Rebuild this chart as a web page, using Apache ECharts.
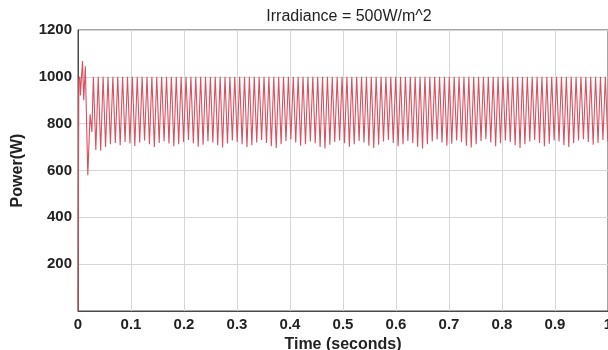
<!DOCTYPE html>
<html>
<head>
<meta charset="utf-8">
<script src="https://cdn.jsdelivr.net/npm/echarts@6/dist/echarts.min.js"></script>
<style>html,body{margin:0;padding:0;background:#fff}#c{width:608px;height:350px}</style>
</head>
<body>
<div id="c"></div>
<script>
// Tick labels
const xTicks = [0, 0.1, 0.2, 0.3, 0.4, 0.5, 0.6, 0.7, 0.8, 0.9, 1];
const yTicks = [0, 200, 400, 600, 800, 1000, 1200];

// Start-up transient (time s, power W)
const transientTime = [0, 0.0015, 0.0035, 0.0045, 0.0085, 0.0108, 0.0138, 0.0185, 0.0228, 0.0262];
const transientPower = [0, 990, 1000, 920, 1068, 900, 1045, 580, 840, 765];

// Steady-state ripple: each cycle peaks at 1000 W, troughs
const rippleStart = 0.029;
const rippleHalfPeriod = 0.0046;
const ripplePeak = 1000;
const rippleTroughs = [688, 684, 700, 712, 718, 708, 722, 715, 705, 720, 728, 712, 700, 718, 725, 715, 704, 712, 722, 730,
  716, 702, 710, 725, 720, 708, 698, 715, 728, 722, 712, 700, 708, 720, 730, 718, 704, 696, 712, 726,
  732, 720, 706, 712, 724, 716, 700, 694, 710, 722, 728, 716, 702, 712, 726, 720, 706, 696, 710, 724,
  730, 718, 704, 712, 726, 718, 702, 694, 712, 724, 732, 720, 706, 714, 728, 722, 706, 698, 712, 726,
  734, 720, 704, 716, 728, 722, 708, 696, 712, 724, 730, 718, 704, 714, 728, 724, 708, 700, 716, 728,
  734, 722, 710, 718, 730, 724];

const data = [];
transientTime.forEach((t, i) => data.push([t, transientPower[i]]));
let t = rippleStart;
data.push([t, ripplePeak]);
rippleTroughs.forEach(v => {
  t += rippleHalfPeriod; data.push([+t.toFixed(5), v]);
  t += rippleHalfPeriod; data.push([+t.toFixed(5), ripplePeak]);
});

const font = 'Liberation Sans, Arial, sans-serif';
const chart = echarts.init(document.getElementById('c'));
chart.setOption({
  animation: false,
  backgroundColor: '#fff',
  title: {
    text: 'Irradiance = 500W/m^2', left: 344, top: 4, textAlign: 'center',
    textStyle: {fontFamily: font, fontSize: 16, fontWeight: 'normal', color: '#222'}
  },
  grid: {left: 78, top: 30, right: 0, bottom: 39, outerBoundsMode: 'none', containLabel: false,
    show: true, borderColor: '#4a4a4a', borderWidth: 1, backgroundColor: 'transparent'},
  xAxis: {
    type: 'value', min: xTicks[0], max: xTicks[xTicks.length - 1], interval: 0.1,
    name: 'Time (seconds)', nameLocation: 'middle', nameGap: 20,
    nameTextStyle: {fontFamily: font, fontSize: 16, fontWeight: 'bold', color: '#222'},
    axisLine: {show: true, lineStyle: {color: '#4a4a4a', width: 1}},
    axisTick: {show: false},
    axisLabel: {fontFamily: font, fontSize: 15, fontWeight: 'bold', color: '#222', margin: 6,
      formatter: v => String(+v.toFixed(1))},
    splitLine: {show: true, lineStyle: {color: '#d6d6d6', width: 1}}
  },
  yAxis: {
    type: 'value', min: yTicks[0], max: yTicks[yTicks.length - 1], interval: 200,
    name: 'Power(W)', nameLocation: 'middle', nameGap: 52,
    nameTextStyle: {fontFamily: font, fontSize: 16, fontWeight: 'bold', color: '#222'},
    axisLine: {show: true, lineStyle: {color: '#4a4a4a', width: 1}},
    axisTick: {show: false},
    axisLabel: {fontFamily: font, fontSize: 15, fontWeight: 'bold', color: '#222', margin: 6,
      formatter: v => v === 0 ? '' : String(v)},
    splitLine: {show: true, lineStyle: {color: '#d6d6d6', width: 1}}
  },
  series: [{
    type: 'line', data: data, showSymbol: false, clip: true,
    lineStyle: {color: '#d9505f', width: 1.1}
  }]
});
</script>
</body>
</html>
